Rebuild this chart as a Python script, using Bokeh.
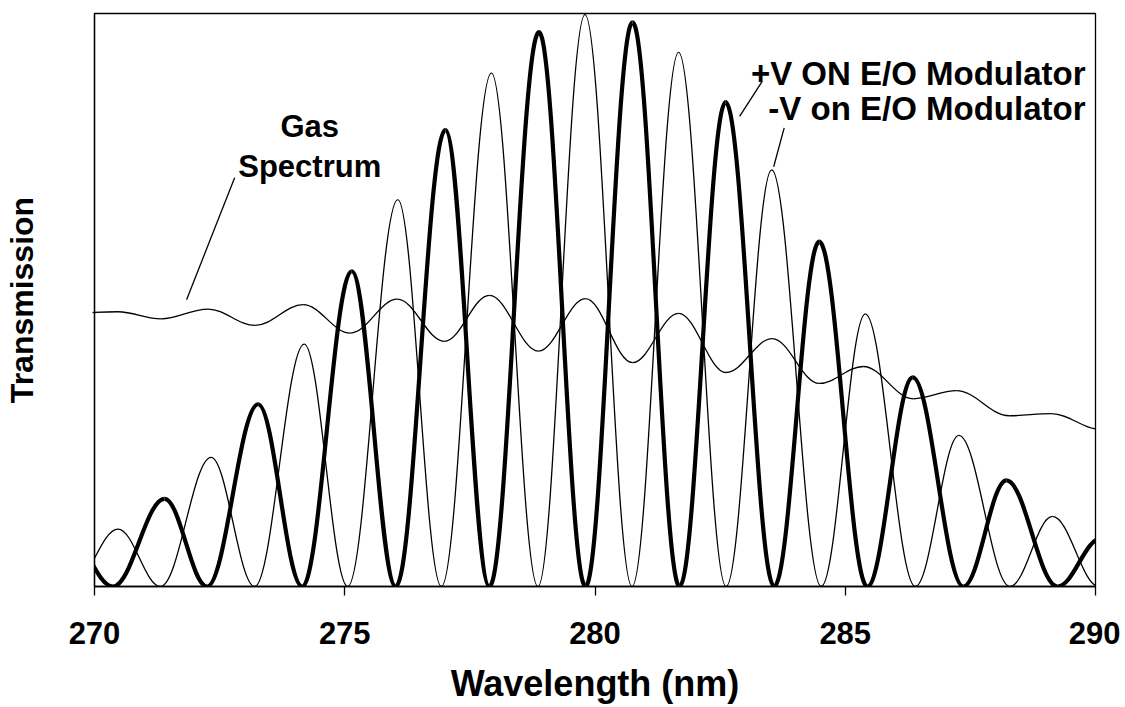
from bokeh.plotting import figure
from bokeh.models import ColumnDataSource, FixedTicker, Range1d
from bokeh.core.properties import value
from bokeh.embed import file_html
from bokeh.resources import INLINE

# ---- data (extrema of each curve: wavelength nm, transmission) ----
plus_v_x = [269.44, 270.37, 271.40, 272.25, 273.27, 274.15, 275.14, 276.02, 277.01, 277.89,
            278.88, 279.81, 280.75, 281.69, 282.61, 283.58, 284.48, 285.44, 286.35, 287.36,
            288.22, 289.24, 290.11]
plus_v_y = [0.100, 0.0, 0.160, 0.0, 0.333, 0.0, 0.576, 0.0, 0.834, 0.0,
            1.013, 0.0, 1.031, 0.0, 0.885, 0.0, 0.630, 0.0, 0.382, 0.0,
            0.194, 0.0, 0.088]

minus_v_x = [269.54, 270.47, 271.32, 272.33, 273.20, 274.19, 275.06, 276.06, 276.93, 277.93,
             278.86, 279.80, 280.74, 281.67, 282.62, 283.53, 284.52, 285.40, 286.40, 287.27,
             288.29, 289.14, 290.07]
minus_v_y = [0.0, 0.105, 0.0, 0.236, 0.0, 0.443, 0.0, 0.707, 0.0, 0.938,
             0.0, 1.045, 0.0, 0.976, 0.0, 0.761, 0.0, 0.498, 0.0, 0.276,
             0.0, 0.128, 0.0]

gas_x = [269.50, 270.47, 271.33, 272.27, 273.21, 274.17, 275.11, 276.05, 276.99, 277.89,
         278.87, 279.81, 280.75, 281.67, 282.62, 283.54, 284.48, 285.36, 286.36, 287.22,
         288.28, 289.12, 290.10]
gas_y = [0.500, 0.502, 0.489, 0.507, 0.477, 0.515, 0.463, 0.525, 0.448, 0.532,
         0.430, 0.526, 0.409, 0.499, 0.391, 0.453, 0.371, 0.402, 0.343, 0.358,
         0.312, 0.316, 0.287]

x_ticks = [270, 275, 280, 285, 290]
y_minor_ticks = [0.5]

# annotation texts and leader lines (data coordinates)
gas_label_lines = ["Gas", "Spectrum"]
gas_label_x = 274.30
gas_label_y = [0.841, 0.768]
mod_labels = ["+V ON E/O Modulator", "-V on E/O Modulator"]
mod_label_x = 289.80
mod_label_y = [0.938, 0.874]
leader_x0 = [271.84, 282.89, 283.57]
leader_y0 = [0.524, 0.859, 0.767]
leader_x1 = [272.80, 283.34, 283.78]
leader_y1 = [0.747, 0.923, 0.838]

FONT = value("Liberation Sans")


def smooth_source(xs, ys, k=0.364):
    """Cubic Bezier pieces between successive extrema (horizontal tangents)."""
    d = dict(x0=[], y0=[], x1=[], y1=[], cx0=[], cy0=[], cx1=[], cy1=[])
    for i in range(len(xs) - 1):
        dx = xs[i + 1] - xs[i]
        d["x0"].append(xs[i]); d["y0"].append(ys[i])
        d["x1"].append(xs[i + 1]); d["y1"].append(ys[i + 1])
        d["cx0"].append(xs[i] + k * dx); d["cy0"].append(ys[i])
        d["cx1"].append(xs[i + 1] - k * dx); d["cy1"].append(ys[i + 1])
    return ColumnDataSource(d)


p = figure(width=1120, height=707, output_backend="svg", toolbar_location=None, title=None,
           x_range=Range1d(270, 290), y_range=Range1d(0, 1.047),
           min_border_left=93, min_border_right=25, min_border_top=13, min_border_bottom=121)
p.background_fill_color = "white"
p.border_fill_color = "white"
p.outline_line_color = "black"
p.outline_line_width = 1.3
p.xgrid.visible = False
p.ygrid.visible = False

for src, w in [(smooth_source(gas_x, gas_y), 1.3),
               (smooth_source(minus_v_x, minus_v_y), 1.3),
               (smooth_source(plus_v_x, plus_v_y), 4.2)]:
    p.bezier(x0="x0", y0="y0", x1="x1", y1="y1", cx0="cx0", cy0="cy0", cx1="cx1", cy1="cy1",
             source=src, line_color="black", line_width=w)

p.segment(x0=leader_x0, y0=leader_y0, x1=leader_x1, y1=leader_y1,
          line_color="black", line_width=1.3)

p.text(x=[gas_label_x] * 2, y=gas_label_y, text=gas_label_lines,
       text_font=FONT, text_font_style="bold", text_font_size="31px",
       text_align="center", text_baseline="alphabetic", text_color="black")
p.text(x=[mod_label_x] * 2, y=mod_label_y, text=mod_labels,
       text_font=FONT, text_font_style="bold", text_font_size="33px",
       text_align="right", text_baseline="alphabetic", text_color="black")

# x axis
xa = p.xaxis[0]
xa.ticker = FixedTicker(ticks=x_ticks)
xa.minor_tick_line_color = None
xa.major_tick_out = 9
xa.major_tick_in = 0
xa.major_tick_line_color = "black"
xa.major_tick_line_width = 1.3
xa.axis_line_color = "black"
xa.axis_line_width = 1.3
xa.major_label_text_font = "Liberation Sans"
xa.major_label_text_font_style = "bold"
xa.major_label_text_font_size = "31px"
xa.major_label_text_color = "black"
xa.major_label_standoff = 26
xa.axis_label = "Wavelength (nm)"
xa.axis_label_text_font = "Liberation Sans"
xa.axis_label_text_font_style = "bold"
xa.axis_label_text_font_size = "36px"
xa.axis_label_text_color = "black"
xa.axis_label_standoff = 16

# y axis (only a small unlabelled tick at mid height)
ya = p.yaxis[0]
ya.ticker = FixedTicker(ticks=[], minor_ticks=y_minor_ticks)
ya.minor_tick_out = 2
ya.minor_tick_in = 2
ya.minor_tick_line_color = "black"
ya.minor_tick_line_width = 1.3
ya.axis_line_color = "black"
ya.axis_line_width = 1.3
ya.major_label_standoff = 0
ya.axis_label = "Transmission"
ya.axis_label_text_font = "Liberation Sans"
ya.axis_label_text_font_style = "bold"
ya.axis_label_text_font_size = "32px"
ya.axis_label_text_color = "black"
ya.axis_label_standoff = 53

open("out.html", "w").write(file_html(p, INLINE))
